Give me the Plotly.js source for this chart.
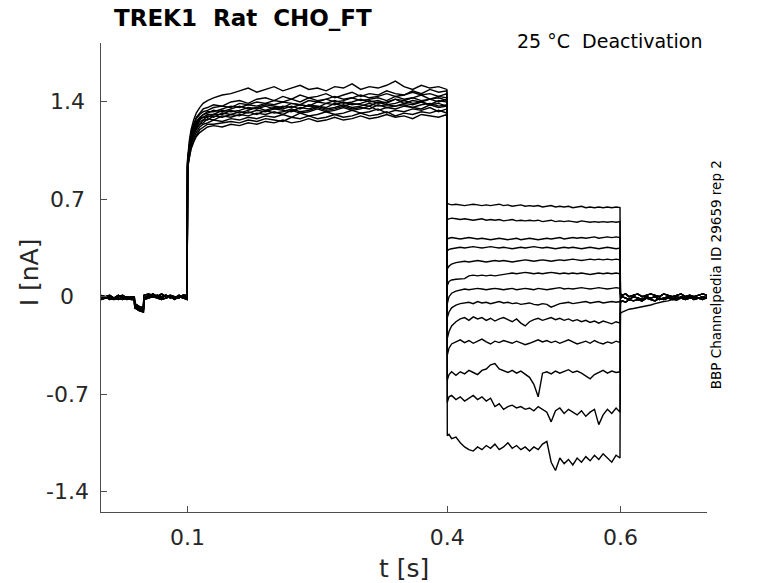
<!DOCTYPE html>
<html>
<head>
<meta charset="utf-8">
<script src="https://cdn.plot.ly/plotly-3.0.1.min.js"></script>
<style>
  html, body { margin: 0; padding: 0; background: #fff; }
  #plot { width: 778px; height: 583px; }
</style>
</head>
<body>
<div id="plot"></div>
<script>
// --- time bases (s) for the four protocol segments ---
const T_PRE = [0, 0.005, 0.01, 0.015, 0.02, 0.025, 0.03, 0.035, 0.0385, 0.039, 0.044, 0.049, 0.0495,
  0.055, 0.06, 0.065, 0.07, 0.075, 0.08, 0.085, 0.09, 0.095, 0.0995];
const T_ACT = [0.1, 0.102, 0.104, 0.107, 0.11, 0.114, 0.118, 0.123, 0.13, 0.14, 0.15, 0.16, 0.17, 0.18,
  0.19, 0.2, 0.21, 0.22, 0.23, 0.24, 0.25, 0.26, 0.27, 0.28, 0.29, 0.3, 0.31, 0.32, 0.33, 0.34, 0.35,
  0.36, 0.37, 0.38, 0.39, 0.3995];
const T_DEACT = [0.4, 0.402, 0.405, 0.41, 0.415, 0.42, 0.425, 0.43, 0.435, 0.44, 0.445, 0.45, 0.455,
  0.46, 0.465, 0.47, 0.475, 0.48, 0.485, 0.49, 0.495, 0.5, 0.505, 0.51, 0.515, 0.52, 0.525, 0.53, 0.535,
  0.54, 0.545, 0.55, 0.555, 0.56, 0.565, 0.57, 0.575, 0.58, 0.585, 0.59, 0.595, 0.5995];
const T_POST = [0.6, 0.602, 0.606, 0.61, 0.615, 0.62, 0.625, 0.63, 0.635, 0.64, 0.645, 0.65, 0.655,
  0.66, 0.665, 0.67, 0.675, 0.68, 0.685, 0.69, 0.695, 0.7];

// --- holding current before the step (nA), 4 sweeps variants ---
const PRE_A = [0.00, -0.01, 0.00, -0.01, 0.01, -0.01, 0.00, -0.01, -0.01, -0.06, -0.08, -0.09, -0.01, 0.01, 0.00, 0.01, 0.00, 0.01, 0.00, -0.01, 0.01, 0.00, 0.00];
const PRE_B = [-0.01, 0.00, -0.02, -0.01, -0.02, 0.00, -0.02, -0.01, -0.02, -0.07, -0.09, -0.10, -0.02, 0.00, 0.02, 0.00, -0.01, 0.01, -0.01, 0.00, -0.01, 0.01, -0.01];
const PRE_C = [0.01, 0.00, 0.01, -0.01, 0.00, 0.01, -0.01, 0.00, 0.00, -0.05, -0.07, -0.08, 0.01, 0.02, 0.01, 0.00, 0.02, 0.00, 0.01, 0.00, 0.00, 0.01, 0.01];
const PRE_D = [-0.02, -0.01, -0.01, -0.02, -0.01, -0.02, -0.01, -0.02, -0.02, -0.08, -0.10, -0.11, -0.02, -0.01, 0.00, -0.01, -0.02, -0.01, 0.00, -0.02, 0.00, -0.01, -0.02];

// --- activating step, one row per sweep (nA) ---
const ACT_1 = [0.99, 1.12, 1.20, 1.27, 1.32, 1.36, 1.39, 1.41, 1.43, 1.45, 1.46, 1.48, 1.50, 1.47, 1.49, 1.51, 1.48, 1.50, 1.52, 1.49, 1.50, 1.48, 1.51, 1.50, 1.53, 1.49, 1.51, 1.50, 1.52, 1.55, 1.51, 1.49, 1.52, 1.50, 1.51, 1.49];
const ACT_2 = [0.98, 1.10, 1.18, 1.24, 1.29, 1.32, 1.35, 1.36, 1.38, 1.37, 1.40, 1.41, 1.39, 1.42, 1.43, 1.41, 1.44, 1.42, 1.45, 1.43, 1.44, 1.46, 1.43, 1.45, 1.47, 1.44, 1.46, 1.45, 1.48, 1.46, 1.45, 1.48, 1.46, 1.49, 1.47, 1.48];
const ACT_3 = [0.97, 1.09, 1.17, 1.23, 1.28, 1.31, 1.33, 1.34, 1.36, 1.37, 1.36, 1.39, 1.38, 1.40, 1.39, 1.41, 1.40, 1.42, 1.40, 1.43, 1.41, 1.42, 1.44, 1.42, 1.43, 1.45, 1.43, 1.44, 1.46, 1.44, 1.45, 1.47, 1.45, 1.46, 1.44, 1.46];
const ACT_4 = [0.96, 1.08, 1.16, 1.22, 1.26, 1.29, 1.31, 1.33, 1.33, 1.35, 1.37, 1.36, 1.38, 1.37, 1.39, 1.38, 1.40, 1.39, 1.38, 1.41, 1.40, 1.42, 1.40, 1.41, 1.43, 1.41, 1.42, 1.43, 1.41, 1.44, 1.42, 1.43, 1.45, 1.42, 1.44, 1.43];
const ACT_5 = [0.97, 1.07, 1.15, 1.21, 1.25, 1.28, 1.31, 1.32, 1.34, 1.33, 1.35, 1.37, 1.35, 1.36, 1.38, 1.37, 1.36, 1.39, 1.38, 1.37, 1.40, 1.39, 1.41, 1.39, 1.40, 1.42, 1.40, 1.41, 1.39, 1.42, 1.41, 1.43, 1.41, 1.42, 1.43, 1.41];
const ACT_6 = [0.95, 1.07, 1.14, 1.20, 1.24, 1.28, 1.29, 1.31, 1.31, 1.34, 1.33, 1.34, 1.36, 1.35, 1.37, 1.35, 1.37, 1.36, 1.38, 1.37, 1.36, 1.39, 1.38, 1.40, 1.38, 1.39, 1.41, 1.39, 1.40, 1.42, 1.39, 1.41, 1.40, 1.42, 1.40, 1.42];
const ACT_7 = [0.96, 1.06, 1.13, 1.19, 1.23, 1.27, 1.29, 1.29, 1.31, 1.31, 1.34, 1.32, 1.34, 1.36, 1.34, 1.36, 1.35, 1.37, 1.35, 1.38, 1.37, 1.36, 1.39, 1.37, 1.39, 1.38, 1.37, 1.40, 1.38, 1.39, 1.41, 1.39, 1.40, 1.38, 1.41, 1.40];
const ACT_8 = [0.94, 1.05, 1.12, 1.18, 1.22, 1.26, 1.27, 1.30, 1.29, 1.32, 1.31, 1.33, 1.32, 1.34, 1.33, 1.35, 1.34, 1.33, 1.36, 1.35, 1.37, 1.35, 1.36, 1.38, 1.36, 1.37, 1.39, 1.37, 1.38, 1.37, 1.39, 1.38, 1.40, 1.38, 1.39, 1.37];
const ACT_9 = [0.95, 1.04, 1.11, 1.17, 1.21, 1.24, 1.27, 1.27, 1.30, 1.29, 1.31, 1.30, 1.33, 1.31, 1.34, 1.32, 1.33, 1.35, 1.33, 1.34, 1.36, 1.34, 1.35, 1.37, 1.35, 1.36, 1.35, 1.38, 1.36, 1.37, 1.38, 1.36, 1.38, 1.39, 1.37, 1.38];
const ACT_10 = [0.93, 1.03, 1.10, 1.16, 1.20, 1.24, 1.25, 1.28, 1.27, 1.30, 1.29, 1.31, 1.30, 1.32, 1.31, 1.33, 1.31, 1.34, 1.32, 1.33, 1.35, 1.33, 1.34, 1.36, 1.34, 1.35, 1.37, 1.34, 1.36, 1.35, 1.37, 1.36, 1.35, 1.38, 1.36, 1.37];
const ACT_11 = [0.94, 1.02, 1.09, 1.14, 1.18, 1.22, 1.24, 1.25, 1.27, 1.26, 1.28, 1.27, 1.29, 1.28, 1.30, 1.29, 1.31, 1.29, 1.32, 1.30, 1.31, 1.33, 1.31, 1.32, 1.34, 1.32, 1.33, 1.35, 1.32, 1.34, 1.33, 1.35, 1.34, 1.36, 1.33, 1.35];
const ACT_12 = [0.92, 1.01, 1.07, 1.12, 1.16, 1.20, 1.22, 1.24, 1.24, 1.25, 1.26, 1.25, 1.27, 1.26, 1.28, 1.27, 1.26, 1.29, 1.28, 1.30, 1.28, 1.29, 1.31, 1.29, 1.30, 1.32, 1.30, 1.31, 1.33, 1.30, 1.32, 1.31, 1.33, 1.32, 1.34, 1.32];
const ACT_13 = [0.93, 1.00, 1.06, 1.11, 1.15, 1.18, 1.20, 1.22, 1.23, 1.22, 1.24, 1.23, 1.25, 1.24, 1.26, 1.25, 1.27, 1.25, 1.26, 1.28, 1.26, 1.27, 1.29, 1.27, 1.28, 1.30, 1.28, 1.29, 1.31, 1.29, 1.30, 1.28, 1.31, 1.30, 1.29, 1.31];

// --- deactivating steps (tail currents), one row per sweep (nA) ---
const DEACT_1 = [0.67, 0.665, 0.66, 0.665, 0.66, 0.655, 0.66, 0.665, 0.66, 0.655, 0.66, 0.655, 0.66, 0.665, 0.655, 0.66, 0.65, 0.655, 0.66, 0.65, 0.655, 0.65, 0.655, 0.645, 0.65, 0.655, 0.645, 0.65, 0.645, 0.65, 0.64, 0.645, 0.65, 0.64, 0.645, 0.64, 0.645, 0.64, 0.645, 0.64, 0.645, 0.64];
const DEACT_2 = [0.555, 0.56, 0.565, 0.56, 0.555, 0.56, 0.555, 0.55, 0.555, 0.56, 0.55, 0.555, 0.55, 0.555, 0.545, 0.55, 0.555, 0.545, 0.55, 0.545, 0.55, 0.545, 0.55, 0.54, 0.545, 0.55, 0.54, 0.545, 0.54, 0.545, 0.54, 0.535, 0.545, 0.54, 0.535, 0.54, 0.535, 0.54, 0.535, 0.54, 0.535, 0.54];
const DEACT_3 = [0.415, 0.42, 0.425, 0.42, 0.415, 0.42, 0.425, 0.42, 0.415, 0.42, 0.415, 0.41, 0.415, 0.42, 0.415, 0.41, 0.415, 0.42, 0.41, 0.415, 0.42, 0.415, 0.41, 0.415, 0.42, 0.415, 0.42, 0.425, 0.415, 0.42, 0.425, 0.42, 0.425, 0.42, 0.425, 0.43, 0.42, 0.425, 0.43, 0.425, 0.43, 0.425];
const DEACT_4 = [0.33, 0.34, 0.345, 0.35, 0.355, 0.35, 0.355, 0.36, 0.355, 0.35, 0.355, 0.36, 0.355, 0.35, 0.355, 0.35, 0.345, 0.35, 0.355, 0.35, 0.355, 0.36, 0.355, 0.35, 0.355, 0.35, 0.345, 0.35, 0.355, 0.35, 0.355, 0.35, 0.345, 0.35, 0.355, 0.35, 0.345, 0.35, 0.355, 0.35, 0.345, 0.35];
const DEACT_5 = [0.20, 0.22, 0.235, 0.245, 0.25, 0.255, 0.25, 0.255, 0.26, 0.255, 0.25, 0.255, 0.26, 0.255, 0.26, 0.255, 0.25, 0.255, 0.26, 0.265, 0.26, 0.255, 0.26, 0.265, 0.26, 0.255, 0.26, 0.265, 0.26, 0.265, 0.27, 0.265, 0.26, 0.265, 0.27, 0.265, 0.27, 0.265, 0.27, 0.265, 0.27, 0.265];
const DEACT_6 = [0.08, 0.11, 0.12, 0.125, 0.13, 0.13, 0.15, 0.155, 0.15, 0.155, 0.15, 0.155, 0.15, 0.155, 0.16, 0.165, 0.17, 0.165, 0.17, 0.175, 0.17, 0.165, 0.17, 0.165, 0.17, 0.175, 0.17, 0.165, 0.17, 0.165, 0.17, 0.165, 0.17, 0.165, 0.16, 0.165, 0.17, 0.165, 0.17, 0.165, 0.17, 0.165];
const DEACT_7 = [-0.05, 0.00, 0.025, 0.04, 0.05, 0.055, 0.05, 0.055, 0.06, 0.055, 0.05, 0.055, 0.06, 0.055, 0.05, 0.055, 0.06, 0.05, 0.055, 0.06, 0.055, 0.05, 0.06, 0.055, 0.05, 0.055, 0.06, 0.065, 0.055, 0.06, 0.055, 0.06, 0.065, 0.06, 0.055, 0.06, 0.065, 0.06, 0.055, 0.06, 0.065, 0.06];
const DEACT_8 = [-0.15, -0.11, -0.08, -0.06, -0.05, -0.045, -0.04, -0.05, -0.035, -0.045, -0.04, -0.05, -0.04, -0.035, -0.045, -0.04, -0.05, -0.045, -0.055, -0.05, -0.045, -0.055, -0.06, -0.05, -0.055, -0.075, -0.06, -0.05, -0.045, -0.04, -0.05, -0.045, -0.04, -0.035, -0.045, -0.04, -0.035, -0.045, -0.04, -0.035, -0.04, -0.035];
const DEACT_9 = [-0.30, -0.25, -0.21, -0.18, -0.16, -0.15, -0.17, -0.145, -0.16, -0.15, -0.17, -0.155, -0.175, -0.16, -0.15, -0.165, -0.18, -0.16, -0.19, -0.21, -0.18, -0.165, -0.155, -0.17, -0.16, -0.15, -0.165, -0.155, -0.17, -0.16, -0.175, -0.165, -0.18, -0.17, -0.185, -0.175, -0.19, -0.175, -0.185, -0.195, -0.18, -0.19];
const DEACT_10 = [-0.42, -0.37, -0.34, -0.325, -0.31, -0.33, -0.315, -0.335, -0.32, -0.305, -0.325, -0.34, -0.32, -0.33, -0.315, -0.325, -0.335, -0.32, -0.33, -0.345, -0.335, -0.32, -0.31, -0.325, -0.315, -0.33, -0.32, -0.335, -0.325, -0.31, -0.325, -0.34, -0.33, -0.32, -0.335, -0.315, -0.33, -0.34, -0.325, -0.335, -0.32, -0.33];
const DEACT_11 = [-0.60, -0.56, -0.54, -0.565, -0.54, -0.555, -0.53, -0.545, -0.56, -0.53, -0.52, -0.49, -0.48, -0.52, -0.53, -0.545, -0.53, -0.55, -0.535, -0.56, -0.58, -0.63, -0.72, -0.55, -0.54, -0.555, -0.535, -0.55, -0.54, -0.525, -0.545, -0.535, -0.55, -0.57, -0.59, -0.56, -0.545, -0.53, -0.55, -0.535, -0.545, -0.54];
const DEACT_12 = [-0.76, -0.72, -0.71, -0.74, -0.72, -0.75, -0.73, -0.71, -0.74, -0.72, -0.75, -0.73, -0.79, -0.77, -0.81, -0.79, -0.78, -0.80, -0.79, -0.81, -0.80, -0.82, -0.79, -0.81, -0.83, -0.90, -0.82, -0.80, -0.84, -0.81, -0.83, -0.85, -0.82, -0.86, -0.83, -0.81, -0.92, -0.85, -0.81, -0.84, -0.80, -0.83];
const DEACT_13 = [-1.00, -0.99, -1.02, -1.01, -1.05, -1.08, -1.10, -1.11, -1.08, -1.10, -1.07, -1.09, -1.06, -1.10, -1.08, -1.05, -1.09, -1.07, -1.10, -1.08, -1.11, -1.08, -1.10, -1.06, -1.04, -1.19, -1.25, -1.16, -1.20, -1.17, -1.21, -1.16, -1.19, -1.15, -1.18, -1.14, -1.17, -1.13, -1.16, -1.19, -1.14, -1.16];

// --- return to holding potential, 4 variants ---
const POST_A = [0.02, 0.01, 0.02, 0.00, 0.01, 0.02, 0.00, 0.01, 0.02, 0.01, 0.00, 0.02, 0.01, 0.00, 0.01, 0.02, 0.00, 0.01, 0.00, 0.01, 0.02, 0.01];
const POST_B = [-0.01, 0.00, -0.01, -0.02, 0.00, -0.01, -0.02, 0.00, -0.01, 0.00, -0.02, -0.01, 0.00, -0.01, -0.02, 0.00, -0.01, 0.00, -0.02, -0.01, 0.00, -0.01];
const POST_C = [-0.04, -0.03, -0.04, -0.02, -0.03, -0.02, -0.03, -0.01, -0.02, -0.03, -0.01, -0.02, -0.01, -0.02, 0.00, -0.01, -0.02, -0.01, 0.00, -0.01, -0.02, 0.00];
const POST_D = [-0.12, -0.11, -0.10, -0.09, -0.085, -0.08, -0.07, -0.065, -0.06, -0.05, -0.04, -0.035, -0.03, -0.02, -0.025, -0.01, -0.02, -0.01, 0.00, -0.01, -0.02, -0.01];

const PRE_SETS = [PRE_A, PRE_B, PRE_C, PRE_D];
const POST_SETS = [POST_A, POST_B, POST_C, POST_D];
const ACT_SWEEPS = [ACT_1, ACT_2, ACT_3, ACT_4, ACT_5, ACT_6, ACT_7, ACT_8, ACT_9, ACT_10, ACT_11, ACT_12, ACT_13];
const DEACT_SWEEPS = [DEACT_1, DEACT_2, DEACT_3, DEACT_4, DEACT_5, DEACT_6, DEACT_7, DEACT_8, DEACT_9, DEACT_10, DEACT_11, DEACT_12, DEACT_13];
const PRE_OF = [0, 1, 2, 3, 0, 1, 2, 3, 0, 1, 2, 3, 0];
const POST_OF = [0, 0, 1, 0, 1, 1, 0, 1, 2, 1, 2, 2, 3];

// axis ticks
const X_TICKS = [0.1, 0.4, 0.6];
const X_TICK_TEXT = ['0.1', '0.4', '0.6'];
const Y_TICKS = [-1.4, -0.7, 0, 0.7, 1.4];
const Y_TICK_TEXT = ['-1.4', '-0.7', '0', '0.7', '1.4'];

const FONT = 'DejaVu Sans, Verdana, sans-serif';
const AXIS_GREY = '#4d4d4d';
const TEXT_GREY = '#262626';

const tAll = [...T_PRE, ...T_ACT, ...T_DEACT, ...T_POST];
const traces = ACT_SWEEPS.map((act, i) => ({
  x: tAll,
  y: [...PRE_SETS[PRE_OF[i]], ...act, ...DEACT_SWEEPS[i], ...POST_SETS[POST_OF[i]]],
  type: 'scatter',
  mode: 'lines',
  line: { color: '#000', width: 1.4 },
  hoverinfo: 'skip',
  showlegend: false
}));

// y tick labels are centred in MATLAB-style export, so draw them as annotations
const yTickNotes = Y_TICKS.map((v, i) => ({
  text: Y_TICK_TEXT[i], xref: 'paper', yref: 'y', x: -0.056, y: v,
  xanchor: 'center', yanchor: 'middle', showarrow: false,
  font: { family: FONT, size: 22, color: TEXT_GREY }
}));

const layout = {
  width: 778,
  height: 583,
  margin: { l: 101, r: 71, t: 43, b: 71 },
  paper_bgcolor: '#fff',
  plot_bgcolor: '#fff',
  showlegend: false,
  font: { family: FONT, color: TEXT_GREY },
  xaxis: {
    range: [0, 0.7],
    tickvals: X_TICKS, ticktext: X_TICK_TEXT,
    ticks: 'inside', ticklen: 6, tickcolor: AXIS_GREY, tickwidth: 1,
    showline: true, linecolor: AXIS_GREY, linewidth: 1,
    showgrid: false, zeroline: false,
    tickfont: { family: FONT, size: 22, color: TEXT_GREY },
    ticklabelstandoff: 6
  },
  yaxis: {
    range: [-1.548, 1.824],
    tickvals: Y_TICKS, ticktext: Y_TICK_TEXT, showticklabels: false,
    ticks: 'inside', ticklen: 6, tickcolor: AXIS_GREY, tickwidth: 1,
    showline: true, linecolor: AXIS_GREY, linewidth: 1,
    showgrid: false, zeroline: false
  },
  annotations: [
    ...yTickNotes,
    {
      text: '<b>TREK1 \u00a0Rat \u00a0CHO_FT</b>', xref: 'paper', yref: 'paper', x: 0.018, y: 1.054,
      xanchor: 'left', yanchor: 'middle', showarrow: false,
      font: { family: FONT, size: 23, color: '#000' }
    },
    {
      text: '25 °C \u00a0Deactivation', xref: 'paper', yref: 'paper', x: 0.995, y: 1.004,
      xanchor: 'right', yanchor: 'middle', showarrow: false,
      font: { family: FONT, size: 19, color: '#000' }
    },
    {
      text: 'BBP Channelpedia ID 29659 rep 2', xref: 'paper', yref: 'paper', x: 1.0149, y: 0.505,
      xanchor: 'center', yanchor: 'middle', textangle: -90, showarrow: false,
      font: { family: FONT, size: 13.5, color: '#000' }
    },
    {
      text: 't [s]', xref: 'paper', yref: 'paper', x: 0.5, y: -0.1215,
      xanchor: 'center', yanchor: 'middle', showarrow: false,
      font: { family: FONT, size: 25, color: TEXT_GREY }
    },
    {
      text: 'I [nA]', xref: 'paper', yref: 'paper', x: -0.118, y: 0.512,
      xanchor: 'center', yanchor: 'middle', textangle: -90, showarrow: false,
      font: { family: FONT, size: 25, color: TEXT_GREY }
    }
  ]
};

Plotly.newPlot('plot', traces, layout, { staticPlot: true, displayModeBar: false });
</script>
</body>
</html>
